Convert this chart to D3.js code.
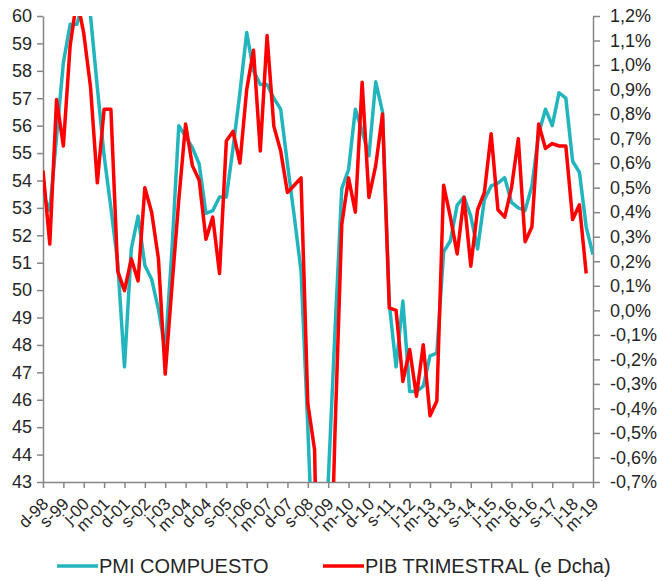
<!DOCTYPE html>
<html>
<head>
<meta charset="utf-8">
<script src="https://cdn.jsdelivr.net/npm/d3@7"></script>
<style>
  html, body { margin: 0; padding: 0; background: #fff; }
  svg { display: block; font-family: "Liberation Sans", Arial, sans-serif; }
</style>
</head>
<body>
<svg id="chart" width="657" height="581"></svg>
<script>
// Quarterly observations, first at Dec-1998 (month index 0), step 3 months
const startLabel = "d-98";
const pmiCompuesto = [53.5, 52.9, 55.6, 58.3, 59.7, 59.7, 60.6, 60.0, 57.4, 54.9,
  53.0, 51.0, 47.2, 51.5, 52.7, 50.9, 50.4, 49.3, 47.8, 51.5,
  56.0, 55.6, 55.2, 54.6, 52.8, 52.9, 53.4, 53.4, 55.2, 57.2,
  59.4, 58.0, 57.5, 57.5, 57.0, 56.6, 54.6, 52.7, 50.7, 45.0,
  38.6, 36.5, 43.0, 48.5, 53.7, 54.4, 56.6, 55.8, 54.9, 57.6,
  56.5, 49.5, 47.2, 49.6, 46.3, 46.3, 46.5, 47.6, 47.7, 51.4,
  51.8, 53.1, 53.4, 52.7, 51.5, 53.3, 53.8, 53.9, 54.1, 53.2,
  53.0, 52.9, 53.8, 55.7, 56.6, 56.0, 57.2, 57.0, 54.7, 54.3,
  52.3, 51.3];
const pibTrimestral = [0.57, 0.27, 0.86, 0.67, 1.08, 1.27, 1.13, 0.91, 0.52, 0.82,
  0.82, 0.16, 0.08, 0.21, 0.12, 0.50, 0.40, 0.21, -0.26, 0.10,
  0.45, 0.76, 0.59, 0.53, 0.29, 0.38, 0.15, 0.69, 0.73, 0.60,
  0.90, 1.06, 0.65, 1.12, 0.75, 0.65, 0.48, 0.51, 0.54, -0.38,
  -0.57, -2.0, -1.5, -0.5, 0.35, 0.54, 0.40, 0.93, 0.46, 0.59,
  0.80, 0.01, 0.00, -0.29, -0.16, -0.35, -0.14, -0.43, -0.37, 0.51,
  0.38, 0.23, 0.46, 0.18, 0.41, 0.48, 0.72, 0.41, 0.38, 0.50,
  0.70, 0.28, 0.34, 0.76, 0.66, 0.68, 0.67, 0.67, 0.37, 0.43,
  0.15];
const xTickLabels = ["d-98","s-99","j-00","m-01","d-01","s-02","j-03","m-04","d-04","s-05",
  "j-06","m-07","d-07","s-08","j-09","m-10","d-10","s-11","j-12","m-13",
  "d-13","s-14","j-15","m-16","d-16","s-17","j-18","m-19"];
const leftTicks = d3.range(43, 61);
const rightTicks = d3.range(-7, 13).map(d => d / 10);
const seriesNames = ["PMI COMPUESTO", "PIB TRIMESTRAL (e Dcha)"];
const seriesColors = ["#22b5bd", "#ff0000"];

const L = 43, R = 593, T = 16, B = 482;
const svg = d3.select("#chart");
const axisColor = "#868686";
const textColor = "#262626";

const x = d3.scaleLinear().domain([0, 243]).range([L, R]);
const yL = d3.scaleLinear().domain([43, 60]).range([B, T]);
const yR = d3.scaleLinear().domain([-0.7, 1.2]).range([B, T]);

svg.append("defs").append("clipPath").attr("id", "plot")
  .append("rect").attr("x", L).attr("y", T).attr("width", R - L).attr("height", B - T);

function styleAxis(g) {
  g.select(".domain").attr("stroke", axisColor).attr("stroke-width", 1.5);
  g.selectAll(".tick line").attr("stroke", axisColor).attr("stroke-width", 1.5);
  g.selectAll(".tick text").attr("fill", textColor);
}

// Left axis
svg.append("g").attr("transform", `translate(${L},0)`)
  .call(d3.axisLeft(yL).tickValues(leftTicks).tickFormat(d3.format("d")).tickSize(6).tickSizeOuter(0).tickPadding(5))
  .call(styleAxis)
  .call(g => g.selectAll(".tick text").attr("font-size", 18).attr("font-family", "Liberation Sans, Arial, sans-serif"));

// Right axis
const fmtR = d => (d < -0.001 ? "-" : "") + Math.abs(d).toFixed(1).replace(".", ",") + "%";
svg.append("g").attr("transform", `translate(${R},0)`)
  .call(d3.axisRight(yR).tickValues(rightTicks).tickFormat(fmtR).tickSize(7).tickSizeOuter(0).tickPadding(10))
  .call(styleAxis)
  .call(g => g.selectAll(".tick text").attr("font-size", 18).attr("font-family", "Liberation Sans, Arial, sans-serif"));

// Bottom axis
svg.append("g").attr("transform", `translate(0,${B})`)
  .call(d3.axisBottom(x).tickValues(d3.range(0, 244, 9)).tickFormat((d, i) => xTickLabels[i]).tickSize(6).tickSizeOuter(0))
  .call(styleAxis)
  .call(g => g.selectAll(".tick text")
    .attr("font-size", 17).attr("font-family", "Liberation Sans, Arial, sans-serif")
    .attr("text-anchor", "end").attr("x", 0).attr("y", 0).attr("dy", 0)
    .attr("transform", "translate(6,23) rotate(-45)"));

// Lines
const months = pmiCompuesto.map((_, i) => i * 3);
const linePMI = d3.line().x((d, i) => x(i * 3)).y(d => yL(d));
const linePIB = d3.line().x((d, i) => x(i * 3)).y(d => yR(d));
const plot = svg.append("g").attr("clip-path", "url(#plot)");
plot.append("path").datum(pmiCompuesto).attr("d", linePMI)
  .attr("fill", "none").attr("stroke", seriesColors[0]).attr("stroke-width", 3.5).attr("stroke-linejoin", "round");
plot.append("path").datum(pibTrimestral).attr("d", linePIB)
  .attr("fill", "none").attr("stroke", seriesColors[1]).attr("stroke-width", 3.5).attr("stroke-linejoin", "round");

// Legend
const legendItems = [{x: 57, name: seriesNames[0], color: seriesColors[0]},
                     {x: 323, name: seriesNames[1], color: seriesColors[1]}];
const lg = svg.append("g");
legendItems.forEach(it => {
  lg.append("line").attr("x1", it.x).attr("x2", it.x + 41).attr("y1", 566).attr("y2", 566)
    .attr("stroke", it.color).attr("stroke-width", 3.5);
  lg.append("text").attr("x", it.x + 42).attr("y", 573).attr("font-size", 20)
    .attr("fill", textColor).text(it.name);
});
</script>
</body>
</html>
